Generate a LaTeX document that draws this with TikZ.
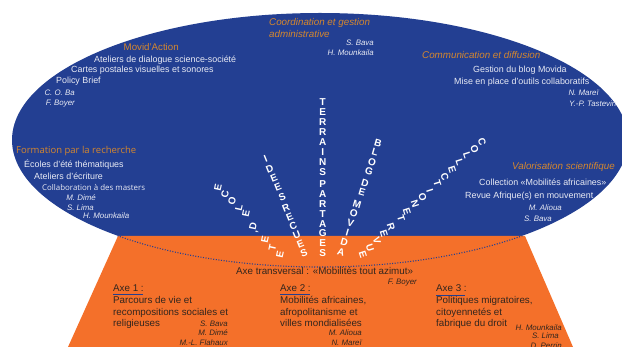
\documentclass[tikz,border=0pt]{standalone}
\usepackage{fontspec}
\setmainfont{Liberation Sans}
\newfontfamily\opensans{Open Sans}
\definecolor{bluezone}{HTML}{233F92}
\definecolor{orangezone}{HTML}{F4702A}
\definecolor{heading}{HTML}{D5872E}
\definecolor{pale}{HTML}{E8EAF4}
\definecolor{darktext}{HTML}{33261E}
\tikzset{
  txt/.style={inner sep=0pt,font=\fontsize{8.9}{10}\selectfont},
  lt/.style={txt,anchor=base west},
  onblue/.style={lt,text=pale},
  ondark/.style={lt,text=darktext,font=\fontsize{9.8}{10}\selectfont},
  head/.style={lt,text=heading,font=\fontsize{9.7}{10}\selectfont},
  headit/.style={head,font=\fontsize{9.8}{10}\selectfont\itshape},
  heados/.style={lt,text=heading,font=\fontsize{9.5}{10}\opensans},
  nameb/.style={inner sep=0pt,anchor=base east,text=pale,font=\fontsize{7.9}{9}\selectfont\itshape},
  named/.style={inner sep=0pt,anchor=base east,text=darktext,font=\fontsize{7.9}{9}\selectfont\itshape},
  letter/.style={inner sep=0pt,text=white,font=\fontsize{10}{10}\selectfont\bfseries},
}
\newcommand\stackword[7]{%
  \foreach \c [count=\i from 0] in {#7}{%
    \node[letter,rotate=#6] (#1-\i) at ({#2+\i*(#4)},{#3+\i*(#5)}) {\c};
  }%
}
\begin{document}
\begin{tikzpicture}[x=1pt,y=-1pt]
\useasboundingbox (0,0) rectangle (622,347);
\clip (0,0) rectangle (622,347);
\fill[bluezone] (320,140) ellipse [x radius=308, y radius=127];
\fill[orangezone] (118,236) -- (525,236) -- (573,347) -- (68,347) -- cycle;
\begin{scope}
  \clip (0,237) rectangle (622,347);
  \draw[bluezone,line width=1.1pt,dash pattern=on 1pt off 1.6pt] (320,140) ellipse [x radius=308, y radius=127];
\end{scope}

% stacked words
\stackword{te}{322.7}{102}{0}{10.05}{0}{T,E,R,R,A,I,N,S}
\stackword{pa}{322.7}{184.5}{0}{9.8}{0}{P,A,R,T,A,G,E,S}
\stackword{id}{265.7}{159}{4.1}{9.5}{22}{I,D,E,E,S}
\stackword{re}{286}{208}{3.6}{9}{22}{R,E,C,U,E,S}
\stackword{ec}{218}{188}{7}{6.5}{78}{E,C,O,L,E}
\stackword{dd}{253}{226.5}{6}{5.5}{78}{D,'}
\stackword{et}{265}{240}{7.5}{7.5}{78}{E,T,E}
\stackword{bl}{378}{143}{-3}{9.4}{-16}{B,L,O,G}
\stackword{de}{365}{183}{-3}{9}{-16}{D,E}
\stackword{mo}{357}{204}{-3.2}{9.6}{-16}{M,O,V,I,D,A}
\stackword{co}{482}{142}{-7.44}{6.9}{-72}{C,O,L,L,E,C,T,I,O,N}
\stackword{ett}{407}{212}{-6}{6}{-72}{E,T}
\stackword{rv}{391}{227}{-7}{7}{-72}{R,E,V,U,E}

% Movid'Action
\node[head] (h1) at (123.5,50.5) {Movid'Action};
\node[onblue] (a1) at (94,63) {Ateliers de dialogue science-société};
\node[onblue] (a2) at (71,73) {Cartes postales visuelles et sonores};
\node[onblue] (a3) at (56,84) {Policy Brief};
\node[nameb] (a4) at (75,95.5) {C. O. Ba};
\node[nameb] (a5) at (75,105.5) {F. Boyer};

% Formation
\node[heados] (h2) at (16,154) {Formation par la recherche};
\node[onblue] (b1) at (24,168) {Écoles d'été thématiques};
\node[onblue] (b2) at (34,180) {Ateliers d'écriture};
\node[lt,text=pale,font=\fontsize{7.9}{10}\opensans] (b3) at (42,191) {Collaboration à des masters};
\node[nameb] (b4) at (96,200.5) {M. Dimé};
\node[nameb] (b5) at (94,210.5) {S. Lima};
\node[nameb] (b6) at (129.5,219) {H. Mounkaila};

% Coordination
\node[headit] (h3) at (269,25.5) {Coordination et gestion};
\node[headit] (h3b) at (269,37.5) {administrative};
\node[nameb] (c1) at (374,45.5) {S. Bava};
\node[nameb] (c2) at (374,55.5) {H. Mounkaila};

% Communication
\node[headit] (h4) at (422,58.5) {Communication et diffusion};
\node[onblue] (d1) at (473,73) {Gestion du blog Movida};
\node[onblue] (d2) at (454,85) {Mise en place d'outils collaboratifs};
\node[nameb] (d3) at (599,95.5) {N. Mareï};
\node[nameb] (d4) at (616.5,106.5) {Y.-P. Tastevin};

% Valorisation
\node[headit] (h5) at (512,170) {Valorisation scientifique};
\node[onblue] (e1) at (479,186) {Collection «Mobilités africaines»};
\node[onblue] (e2) at (465,199) {Revue Afrique(s) en mouvement};
\node[nameb] (e3) at (562,210.5) {M. Alioua};
\node[nameb] (e4) at (552,221.5) {S. Bava};

% Transversal
\node[ondark] (t1) at (236,275) {Axe transversal : «Mobilités tout azimut»};
\node[named] (t2) at (417,284.5) {F. Boyer};

% Axe 1
\node[ondark] (x1) at (113,291.5) {Axe 1 :};
\coordinate (x1a) at (113,294.7);
\coordinate (x1b) at (143,294.7);
\draw[bluezone,line width=1pt] (x1a) -- (x1b);
\node[ondark] (x1c) at (113,304) {Parcours de vie et};
\node[ondark] (x1d) at (113,316) {recompositions sociales et};
\node[ondark] (x1e) at (113,327) {religieuses};
\node[named] (x1f) at (228,326.5) {S. Bava};
\node[named] (x1g) at (228,335.5) {M. Dimé};
\node[named] (x1h) at (228,345.5) {M.-L. Flahaux};

% Axe 2
\node[ondark] (x2) at (280,291.5) {Axe 2 :};
\coordinate (x2a) at (280,294.7);
\coordinate (x2b) at (310,294.7);
\draw[bluezone,line width=1pt] (x2a) -- (x2b);
\node[ondark] (x2c) at (280,304) {Mobilités africaines,};
\node[ondark] (x2d) at (280,316) {afropolitanisme et};
\node[ondark] (x2e) at (280,327) {villes mondialisées};
\node[named] (x2f) at (362,335.5) {M. Alioua};
\node[named] (x2g) at (362,345.5) {N. Mareï};

% Axe 3
\node[ondark] (x3) at (436,291.5) {Axe 3 :};
\coordinate (x3a) at (436,295.5);
\coordinate (x3b) at (465,295.5);
\draw[bluezone,line width=1pt] (x3a) -- (x3b);
\node[ondark] (x3c) at (436,304) {Politiques migratoires,};
\node[ondark] (x3d) at (436,316) {citoyennetés et};
\node[ondark] (x3e) at (436,327) {fabrique du droit};
\node[named] (x3f) at (562,330.5) {H. Mounkaila};
\node[named] (x3g) at (559,338.5) {S. Lima};
\node[named] (x3h) at (562,348.5) {D. Perrin};
\end{tikzpicture}
\end{document}
